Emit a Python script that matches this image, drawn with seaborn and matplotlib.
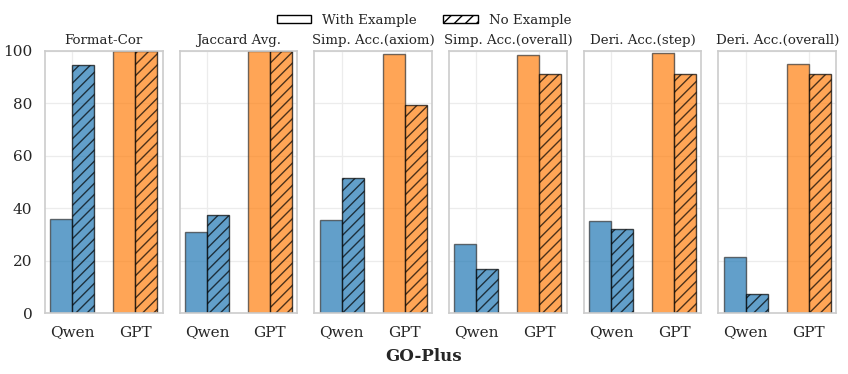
import numpy as np
import pandas as pd
import matplotlib
matplotlib.use("Agg")
import matplotlib.pyplot as plt
from matplotlib.patches import Patch
import seaborn as sns

metrics = ["Format-Cor", "Jaccard Avg.", "Simp. Acc.(axiom)", "Simp. Acc.(overall)",
           "Deri. Acc.(step)", "Deri. Acc.(overall)"]
models = ["Qwen", "GPT"]
settings = ["With Example", "No Example"]
qwen_with = [35.8, 30.9, 35.3, 26.5, 35.1, 21.4]
qwen_no = [94.5, 37.4, 51.5, 16.9, 31.9, 7.3]
gpt_with = [100.0, 100.0, 98.8, 98.5, 99.0, 94.8]
gpt_no = [100.0, 100.0, 79.4, 91.0, 91.0, 91.0]

model_colors = {"Qwen": "#1f77b4", "GPT": "#ff7f0e"}

sns.set_theme(style="whitegrid")
plt.rcParams["font.family"] = ["DejaVu Serif"]
plt.rcParams["hatch.linewidth"] = 1.0

rows = []
for i, m in enumerate(metrics):
    rows += [
        dict(metric=m, model="Qwen", setting="With Example", value=qwen_with[i]),
        dict(metric=m, model="GPT", setting="With Example", value=gpt_with[i]),
        dict(metric=m, model="Qwen", setting="No Example", value=qwen_no[i]),
        dict(metric=m, model="GPT", setting="No Example", value=gpt_no[i]),
    ]
df = pd.DataFrame(rows)

fig, axes = plt.subplots(1, 6, figsize=(8.48, 3.74), dpi=100, sharey=True)
fig.subplots_adjust(left=0.053, right=0.986, top=0.864, bottom=0.163, wspace=0.145)

for ax, m in zip(axes, metrics):
    sub = df[df.metric == m]
    sns.barplot(data=sub, x="model", y="value", hue="setting", order=models,
                hue_order=settings, ax=ax, width=0.7, legend=False, errorbar=None)
    for j, p in enumerate(ax.patches):
        si = j // 2
        mi = j % 2
        p.set_facecolor(model_colors[models[mi]])
        p.set_alpha(0.7)
        if si == 1:
            p.set_hatch("///")
            p.set_edgecolor("black")
        else:
            p.set_edgecolor("#333333")
        p.set_linewidth(1.0)
    ax.set_title(m, fontsize=9.6, pad=5)
    ax.set_xlabel("")
    ax.set_ylabel("")
    ax.set_xlim(-0.435, 1.435)
    ax.set_ylim(0, 100)
    ax.set_yticks([0, 20, 40, 60, 80, 100])
    ax.tick_params(axis="both", labelsize=11, pad=3)
    ax.grid(True, color="#ececec", linewidth=0.9)
    for s in ax.spines.values():
        s.set_edgecolor("#cccccc")
        s.set_linewidth(1.2)

handles = [Patch(facecolor="white", edgecolor="black", label="With Example"),
           Patch(facecolor="white", edgecolor="black", hatch="///", label="No Example")]
fig.legend(handles=handles, loc="upper center", ncol=2, frameon=False,
           fontsize=9.6, bbox_to_anchor=(0.5, 0.995), handlelength=2.6, handleheight=0.6,
           columnspacing=2.0)
fig.supxlabel("GO-Plus", fontweight="bold", fontsize=12, y=0.025)

fig.savefig("out.png", dpi=100)
